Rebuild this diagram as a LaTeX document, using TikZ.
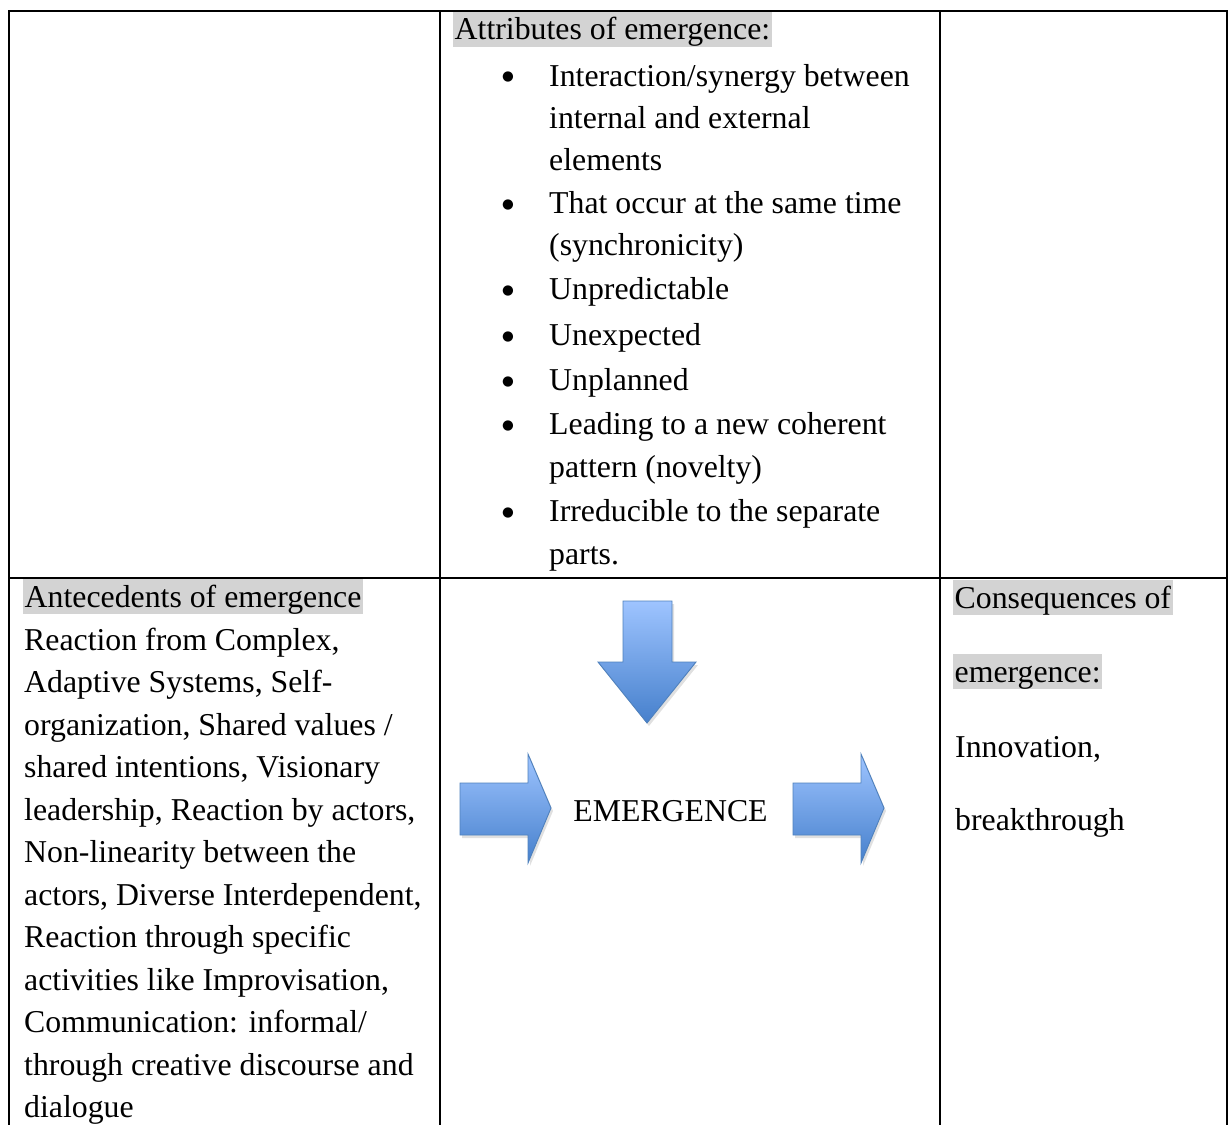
\documentclass[tikz,border=0pt]{standalone}
\usepackage{fontspec}
\setmainfont{Liberation Serif}
\newfontfamily\bulletfont{DejaVu Sans}
\definecolor{hl}{RGB}{211,211,211}
\definecolor{arrTop}{RGB}{158,196,255}
\definecolor{arrBot}{RGB}{70,128,204}
\definecolor{arrLine}{RGB}{79,129,189}
\begin{document}
\begin{tikzpicture}[x=1pt,y=-1pt,
  txt/.style={anchor=base west, inner sep=0pt, font=\fontsize{31.8}{42.5}\selectfont},
  hdr/.style={txt, fill=hl, text height=28pt, text depth=7pt, inner xsep=1.5pt},
  ctr/.style={anchor=base, inner sep=0pt, font=\fontsize{31.8}{42.5}\selectfont},
  bul/.style={anchor=base, inner sep=0pt, yshift=5pt, font=\bulletfont\fontsize{13.5}{14}\selectfont},
  rule/.style={line width=2.4pt, line cap=rect},
  shadowarrow/.style={fill=black, opacity=0.12, draw=none},
  blockarrow/.style={draw=arrLine, line width=0.9pt, line join=miter, top color=arrTop, bottom color=arrBot}]
\useasboundingbox (0,0) rectangle (1228,1124);
\fill[white] (0,0) rectangle (1228,1124);

% table rules
\draw[rule] (9,11) -- (1227,11);
\draw[rule] (9,578) -- (1227,578);
\draw[rule] (9,11) -- (9,1130);
\draw[rule] (440,11) -- (440,1130);
\draw[rule] (940,11) -- (940,1130);
\draw[rule] (1227,11) -- (1227,1130);

% attributes (top middle)
\node[hdr] (ah) at (453,40) {Attributes of emergence:};
\node[bul] (b1) at (508,86) {●};
\node[txt] (a1) at (549,86) {Interaction/synergy between};
\node[txt] (a2) at (549,128) {internal and external};
\node[txt] (a3) at (549,170) {elements};
\node[bul] (b2) at (508,213) {●};
\node[txt] (a4) at (549,213) {That occur at the same time};
\node[txt] (a5) at (549,255) {(synchronicity)};
\node[bul] (b3) at (508,299) {●};
\node[txt] (a6) at (549,299) {Unpredictable};
\node[bul] (b4) at (508,345) {●};
\node[txt] (a7) at (549,345) {Unexpected};
\node[bul] (b5) at (508,390) {●};
\node[txt] (a8) at (549,390) {Unplanned};
\node[bul] (b6) at (508,434) {●};
\node[txt] (a9) at (549,434) {Leading to a new coherent};
\node[txt] (a10) at (549,477) {pattern (novelty)};
\node[bul] (b7) at (508,521) {●};
\node[txt] (a11) at (549,521) {Irreducible to the separate};
\node[txt] (a12) at (549,564) {parts.};

% antecedents (bottom left)
\node[hdr] (lh) at (23,607) {Antecedents of emergence};
\node[txt] (l1) at (24,650) {Reaction from Complex,};
\node[txt] (l2) at (24,692) {Adaptive Systems, Self-};
\node[txt] (l3) at (24,735) {organization, Shared values /};
\node[txt] (l4) at (24,777) {shared intentions, Visionary};
\node[txt] (l5) at (24,820) {leadership, Reaction by actors,};
\node[txt] (l6) at (24,862) {Non-linearity between the};
\node[txt] (l7) at (24,905) {actors, Diverse Interdependent,};
\node[txt] (l8) at (24,947) {Reaction through specific};
\node[txt] (l9) at (24,990) {activities like Improvisation,};
\node[txt] (l10) at (24,1032) {Communication: informal/};
\node[txt] (l11) at (24,1075) {through creative discourse and};
\node[txt] (l12) at (24,1117) {dialogue};

% consequences (bottom right)
\node[hdr] (ch1) at (953,608) {Consequences of};
\node[hdr] (ch2) at (953,682) {emergence:};
\node[txt] (c1) at (955,757) {Innovation,};
\node[txt] (c2) at (955,830) {breakthrough};

% emergence centre
\node[ctr] (emer) at (670.5,821) {EMERGENCE};

% block arrows (faint shadow, then arrow)
\begin{scope}[shift={(2,3)}]
\path[shadowarrow] (623,601) -- (672,601) -- (672,662) -- (696,662) -- (647,723) -- (598,662) -- (623,662) -- cycle;
\path[shadowarrow] (460,783) -- (528,783) -- (528,754) -- (551,808) -- (528,863) -- (528,835) -- (460,835) -- cycle;
\path[shadowarrow] (793,783) -- (861,783) -- (861,754) -- (884,808) -- (861,863) -- (861,835) -- (793,835) -- cycle;
\end{scope}
\path[blockarrow] (623,601) -- (672,601) -- (672,662) -- (696,662) -- (647,723) -- (598,662) -- (623,662) -- cycle;
\path[blockarrow] (460,783) -- (528,783) -- (528,754) -- (551,808) -- (528,863) -- (528,835) -- (460,835) -- cycle;
\path[blockarrow] (793,783) -- (861,783) -- (861,754) -- (884,808) -- (861,863) -- (861,835) -- (793,835) -- cycle;
\end{tikzpicture}
\end{document}
